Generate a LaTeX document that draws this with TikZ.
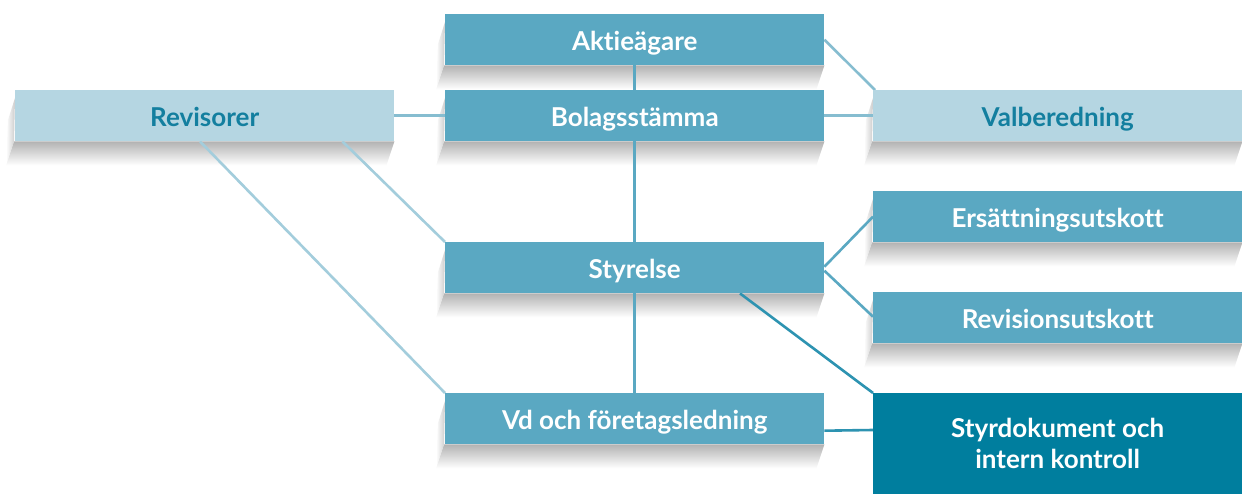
\documentclass[tikz,border=0pt]{standalone}
\usepackage{fontspec}
\setmainfont{Lato}[Ligatures={NoCommon,NoRare}]
\usetikzlibrary{calc,backgrounds}
\definecolor{cmid}{HTML}{5AA8C2}
\definecolor{clight}{HTML}{B5D6E2}
\definecolor{cdark}{HTML}{007E9E}
\definecolor{ctext}{HTML}{137F9F}
\definecolor{clinelight}{HTML}{A3CDDC}
\definecolor{clinemix}{HTML}{86BDD0}
\definecolor{clinedark}{HTML}{2D93B1}
\tikzset{
  box/.style={rectangle, inner sep=0pt, anchor=north west, minimum width=379pt, minimum height=51pt,
    font=\bfseries\fontsize{26}{30}\selectfont, align=center, text height=22pt, text depth=0pt},
  rbox/.style={box, minimum width=369pt},
  mid/.style={fill=cmid, text=white},
  light/.style={fill=clight, text=ctext},
  dark/.style={fill=cdark, text=white},
  conn/.style={line width=2.6pt, draw=cmid},
  connlight/.style={line width=2.6pt, draw=clinelight},
  connmix/.style={line width=2.6pt, draw=clinemix},
  conndark/.style={line width=2.6pt, draw=clinedark},
}
\newcommand\boxshadow[1]{%
  \shade[top color=black!30, bottom color=white]
    ($(#1.south west)+(-1,0)$) -- (#1.south east) -- ($(#1.south east)+(-8,24)$) -- ($(#1.south west)+(-9,24)$) -- cycle;
  \shade[left color=white, right color=black!20]
    ($(#1.north west)+(0,8)$) -- ($(#1.south west)+(-1,0)$) -- ($(#1.south west)+(-9,24)$) -- ($(#1.north west)+(-7,30)$) -- cycle;
}
\begin{document}
\begin{tikzpicture}[x=1pt,y=-1pt]
\useasboundingbox (0,0) rectangle (1242,494);

\node[box,mid] (akt) at (445,14) {Aktieägare};
\node[box,mid] (bol) at (445,90) {Bolagsstämma};
\node[box,light] (rev) at (15,90) {Revisorer};
\node[rbox,light] (val) at (873,90) {Valberedning};
\node[box,mid] (sty) at (445,242) {Styrelse};
\node[rbox,mid] (ers) at (873,191) {Ersättningsutskott};
\node[rbox,mid] (ru) at (873,292) {Revisionsutskott};
\node[box,mid] (vd) at (445,393) {Vd och företagsledning};
\node[rbox,dark, minimum height=101pt, text height=, text depth=, font=\bfseries\fontsize{26}{31}\selectfont] (doc) at (873,393) {Styrdokument och\\intern kontroll};

\begin{scope}[on background layer]
  \fill[white] (0,0) rectangle (1242,494);
  \boxshadow{akt}
  \boxshadow{bol}
  \boxshadow{rev}
  \boxshadow{val}
  \boxshadow{sty}
  \boxshadow{ers}
  \boxshadow{ru}
  \boxshadow{vd}
  \draw[conn] (akt.south) -- (bol.north);
  \draw[conn] (bol.south) -- (sty.north);
  \draw[conn] (sty.south) -- (vd.north);
  \draw[connmix] (rev.east) -- (bol.west);
  \draw[connmix] (bol.east) -- (val.west);
  \draw[connmix] (akt.east) -- ($(val.north west)+(2,0)$);
  \draw[connlight] ($(rev.south west)+(185,0)$) -- (vd.north west);
  \draw[connlight] ($(rev.south east)+(-52,0)$) -- (sty.north west);
  \draw[conn] ($(sty.east)+(0,-1)$) -- (ers.west);
  \draw[conn] ($(sty.east)+(0,3)$) -- ($(ru.west)+(0,-1)$);
  \draw[conndark] ($(sty.south west)+(295,0)$) -- (doc.north west);
  \draw[conndark] ($(vd.east)+(0,12)$) -- ($(doc.north west)+(0,37)$);
\end{scope}
\end{tikzpicture}
\end{document}
